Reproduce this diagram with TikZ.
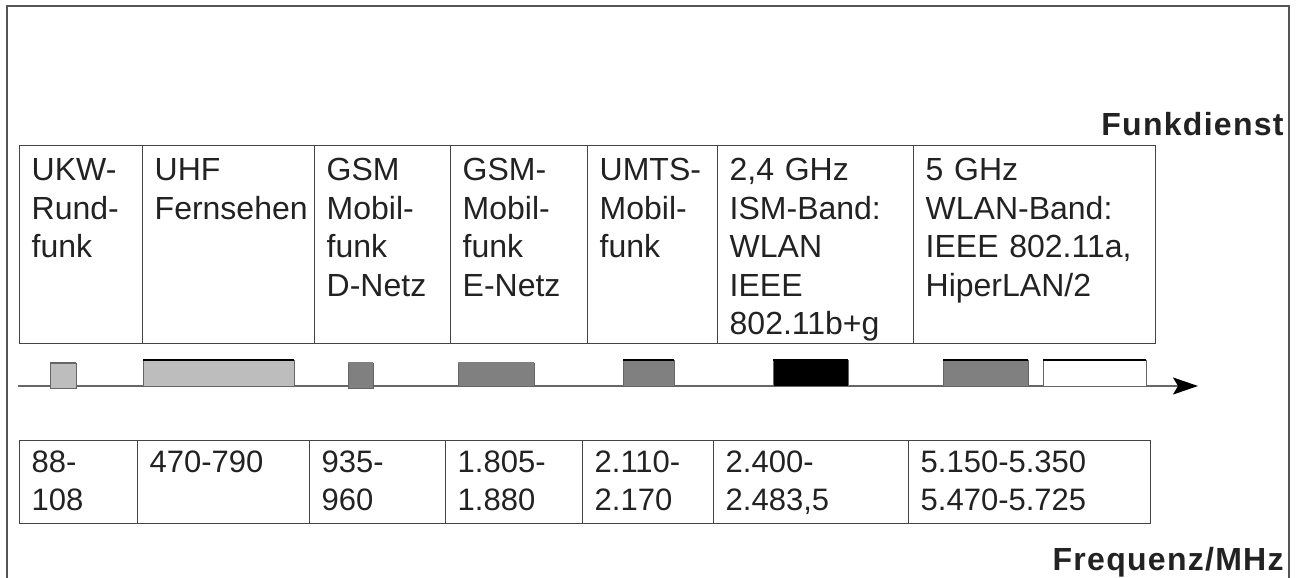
\documentclass[tikz,border=0pt]{standalone}
\usepackage{fontspec}
\setmainfont{Liberation Sans}
\newfontfamily\capfont[LetterSpace=4]{Liberation Sans}
\usetikzlibrary{arrows.meta}

\definecolor{framegray}{HTML}{555555}
\definecolor{gridgray}{HTML}{444444}
\definecolor{axisgray}{HTML}{666666}
\definecolor{barlight}{HTML}{BDBDBD}
\definecolor{bardark}{HTML}{808080}
\definecolor{textdark}{HTML}{222222}

\tikzset{
  cell/.style={draw=gridgray, line width=0.7pt, rectangle, anchor=north west,
    inner xsep=6pt, inner ysep=0pt, align=left, text=textdark},
  topcell/.style={cell, font=\fontsize{16pt}{19.25pt}\selectfont,
    text height=17.5pt, text depth=81.5pt},
  lowcell/.style={cell, font=\fontsize{15.5pt}{19pt}\selectfont,
    text height=16pt, text depth=25.5pt},
  caption/.style={anchor=base east, inner sep=0pt, text=textdark,
    font=\capfont\fontsize{16pt}{18pt}\selectfont\bfseries},
}

\begin{document}
\begin{tikzpicture}[x=0.5pt, y=-0.5pt]
  \useasboundingbox (0,0) rectangle (1298,578);
  % outer frame, open at the bottom
  \draw[framegray, line width=1pt] (7,578) -- (7,6) -- (1289,6) -- (1289,578);

  \node[caption] (dienst) at (1284,135) {Funkdienst};
  \node[caption] (freq) at (1284,570) {Frequenz/MHz};

  % services
  \foreach \n/\x/\w/\txt in {
      1/19/123/{UKW-\\Rund-\\funk},
      2/142/172/{UHF\\Fernsehen},
      3/314/136/{GSM\\Mobil-\\funk\\D-Netz},
      4/450/137/{GSM-\\Mobil-\\funk\\E-Netz},
      5/587/130/{UMTS-\\Mobil-\\funk},
      6/717/196/{2,4 GHz\\ISM-Band:\\WLAN\\IEEE\\802.11b+g},
      7/913/242/{5 GHz\\WLAN-Band:\\IEEE 802.11a,\\HiperLAN/2}}
  {
    \pgfmathsetmacro\tw{\w*0.5-12}
    \node[topcell, text width=\tw pt] (dienst-\n) at (\x,145) {\txt};
  }

  % frequencies
  \foreach \n/\x/\w/\txt in {
      1/19/118/{88-\\108},
      2/137/172/{470-790},
      3/309/136/{935-\\960},
      4/445/137/{1.805-\\1.880},
      5/582/131/{2.110-\\2.170},
      6/713/195/{2.400-\\2.483,5},
      7/908/242/{5.150-5.350\\5.470-5.725}}
  {
    \pgfmathsetmacro\tw{\w*0.5-12}
    \node[lowcell, text width=\tw pt] (freq-\n) at (\x,440) {\txt};
  }

  % frequency axis
  \coordinate (ax-start) at (18,386);
  \coordinate (ax-end) at (1198,386);
  \draw[axisgray, line width=1pt,
    -{Stealth[length=12.5pt, width=8.5pt, inset=2.5pt, black]}]
    (ax-start) -- (ax-end);

  % bands
  \foreach \a/\t/\b/\u/\fc/\top in {
      50/363/76/388/barlight/axisgray,
      143/360/294/386/barlight/black,
      348/363/373/388/bardark/bardark,
      458/363/534/386/bardark/bardark,
      623/360/674/386/bardark/black,
      773/360/848/386/black/black,
      943/360/1028/386/bardark/black,
      1043/360/1146/386/white/black}
  {
    \filldraw[fill=\fc, draw=axisgray, line width=0.5pt] (\a,\t) rectangle (\b,\u);
    \draw[\top, line width=1pt] (\a,\t) -- (\b,\t);
  }
\end{tikzpicture}
\end{document}
